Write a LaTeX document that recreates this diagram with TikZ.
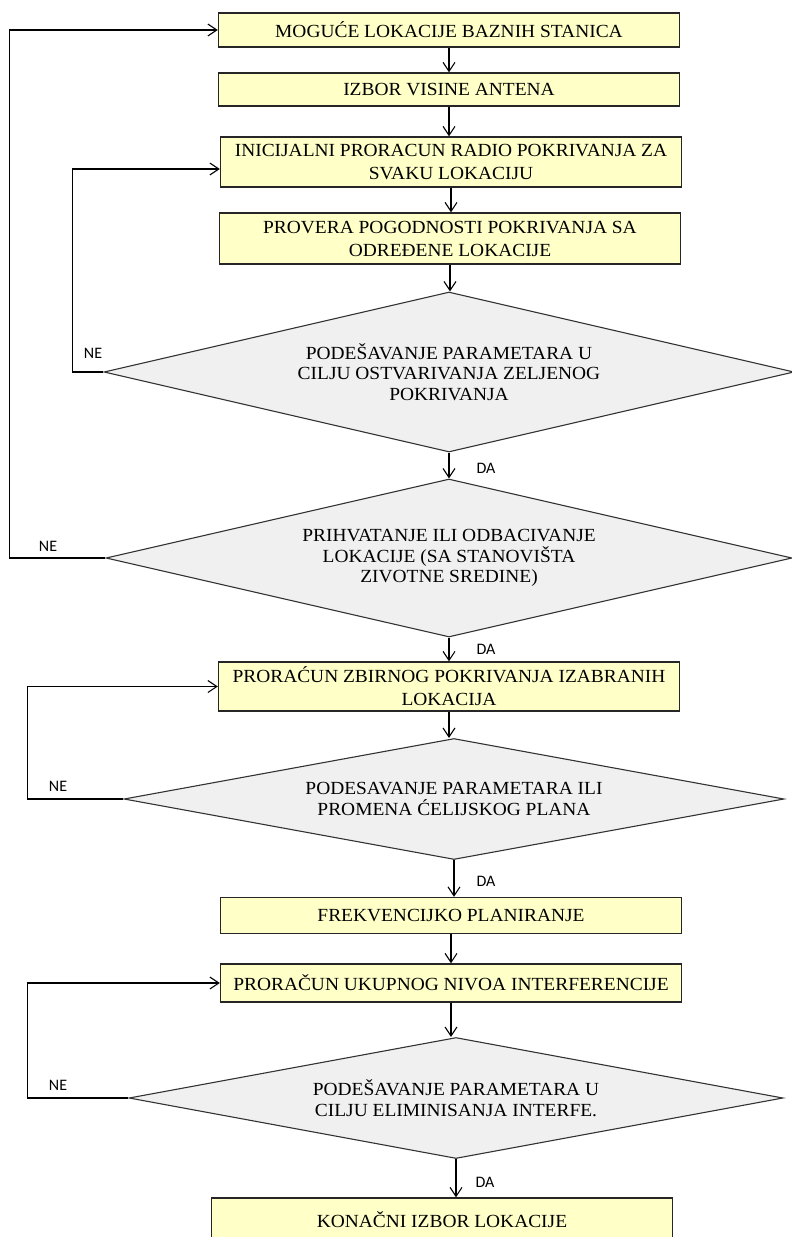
\documentclass[tikz,border=0pt]{standalone}
\usepackage{fontspec}
\setmainfont{Liberation Serif}[FakeStretch=1.05]
\newfontfamily\oznakafont{Carlito}
\usepackage{tikz}
\usetikzlibrary{arrows.meta}
\usetikzlibrary{shapes.geometric}
\definecolor{korakzuta}{RGB}{255,255,200}
\definecolor{odlukasiva}{RGB}{240,240,240}

\tikzset{
  korak/.style={draw=black!85, line width=1.3pt, fill=korakzuta, minimum width=461pt,
    inner sep=2pt, align=center, font=\fontsize{18.5}{23}\selectfont},
  odluka/.style={draw=black!80, line width=1.1pt, fill=odlukasiva, shape=diamond,
    inner sep=0pt, align=center, font=\fontsize{18.5}{20.5}\selectfont},
  tok/.style={-{Straight Barb[length=9pt,width=12pt]}, line width=1.1pt},
  oznaka/.style={font=\oznakafont\fontsize{16}{18}\selectfont, inner sep=0pt}
}

\begin{document}
\begin{tikzpicture}[x=1pt,y=-1pt]
            \useasboundingbox (0,0) rectangle (792,1237);

            % Koraci i odluke
            \node[korak, minimum height=34pt] (lok) at (449,30) {MOGUĆE LOKACIJE BAZNIH STANICA};
            \node[korak, minimum height=33pt] (vis) at (449,89.5) {IZBOR VISINE ANTENA};
            \node[korak, minimum height=50pt] (inic) at (451,162) {INICIJALNI PRORACUN RADIO POKRIVANJA ZA\\SVAKU LOKACIJU};
            \node[korak, minimum height=51pt] (prov) at (450,238.5) {PROVERA POGODNOSTI POKRIVANJA SA\\ODREĐENE LOKACIJE};
            \node[odluka, minimum width=690pt, minimum height=160pt, aspect=4.3] (pod1) at (449,372)
                {PODEŠAVANJE PARAMETARA U\\CILJU OSTVARIVANJA ZELJENOG\\POKRIVANJA};
            \node[odluka, minimum width=686pt, minimum height=158pt, aspect=4.3] (prih) at (449,558)
                {PRIHVATANJE ILI ODBACIVANJE\\LOKACIJE (SA STANOVIŠTA\\ZIVOTNE SREDINE)};
            \node[korak, minimum height=49pt] (zbir) at (449,686.5) {PRORAĆUN ZBIRNOG POKRIVANJA IZABRANIH\\LOKACIJA};
            \node[odluka, minimum width=660pt, minimum height=121pt, aspect=5.4] (pod2) at (454,799)
                {PODESAVANJE PARAMETARA ILI\\PROMENA ĆELIJSKOG PLANA};
            \node[korak, minimum height=36pt] (frek) at (451,915.5) {FREKVENCIJKO PLANIRANJE};
            \node[korak, minimum height=38pt] (uk) at (451,983) {PRORAČUN UKUPNOG NIVOA INTERFERENCIJE};
            \node[odluka, minimum width=654pt, minimum height=121pt, aspect=5.4] (pod3) at (456,1098)
                {PODEŠAVANJE PARAMETARA U\\CILJU ELIMINISANJA INTERFE.};
            \node[korak, minimum height=44pt] (kon) at (442,1220) {KONAČNI IZBOR LOKACIJE};

            % Glavni tok
            \foreach \a/\b in {lok/vis, vis/inic, inic/prov, prov/pod1, pod1/prih, prih/zbir,
                               zbir/pod2, pod2/frek, frek/uk, uk/pod3, pod3/kon}
                \draw[tok] (\a.south) -- (\a.south |- \b.north);

            % Povratne veze
            \draw[tok] (pod1.west) -- ++(-31,0) |- ([yshift=-7pt]inic.west);
            \draw[tok] (prih.west) -- ++(-96,0) |- (lok.west);
            \draw[tok] (pod2.west) -- ++(-96,0) |- (zbir.west);
            \draw[tok] (pod3.west) -- ++(-101,0) |- (uk.west);

            % Oznake
            \node[oznaka] (ne1) at (93,353) {NE};
            \node[oznaka] (ne2) at (48,546) {NE};
            \node[oznaka] (ne3) at (58,786) {NE};
            \node[oznaka] (ne4) at (58,1085) {NE};
            \node[oznaka] (da1) at (486,468) {DA};
            \node[oznaka] (da2) at (486,649) {DA};
            \node[oznaka] (da3) at (486,881) {DA};
            \node[oznaka] (da4) at (485,1182) {DA};
        \end{tikzpicture}
\end{document}
